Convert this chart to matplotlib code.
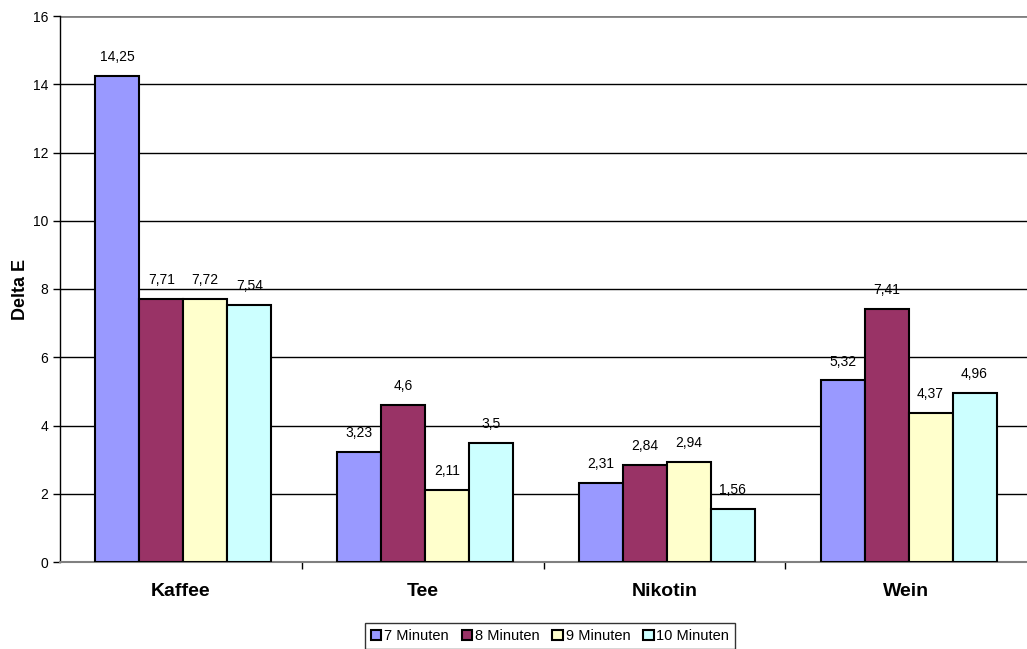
import numpy as np
import matplotlib
matplotlib.use("Agg")
import matplotlib.pyplot as plt

plt.rcParams['font.family'] = ['Liberation Sans', 'DejaVu Sans']

categories = ['Kaffee', 'Tee', 'Nikotin', 'Wein']
series_names = ['7 Minuten', '8 Minuten', '9 Minuten', '10 Minuten']
values = [
    [14.25, 3.23, 2.31, 5.32],
    [7.71, 4.6, 2.84, 7.41],
    [7.72, 2.11, 2.94, 4.37],
    [7.54, 3.5, 1.56, 4.96],
]
colors = ['#9999FF', '#993366', '#FFFFCC', '#CCFFFF']

fig = plt.figure(figsize=(10.27, 6.49), dpi=100)
ax = fig.add_axes([60/1027, 87/649, 967/1027, 546/649])

bar_w = 0.182
start = 0.146
x = np.arange(len(categories))
for i, (name, vals) in enumerate(zip(series_names, values)):
    pos = x + start + i * bar_w
    ax.bar(pos, vals, width=bar_w, align='edge', color=colors[i],
           edgecolor='black', linewidth=1.5, label=name, zorder=3)
    for p, v in zip(pos, vals):
        ax.text(p + bar_w / 2, v + 0.35, ('%g' % v).replace('.', ','),
                ha='center', va='bottom', fontsize=10, zorder=4)

ax.set_xlim(0, 4)
ax.set_ylim(0, 16)
ax.set_yticks(np.arange(0, 17, 2))
ax.tick_params(axis='y', labelsize=10, length=5, width=1, direction='out')
for y in range(2, 16, 2):
    ax.axhline(y, color='black', linewidth=1, zorder=1)
ax.axhline(16, color='#808080', linewidth=2, zorder=1)

ax.set_xticks([1, 2, 3])
ax.set_xticklabels([])
ax.tick_params(axis='x', length=5, width=1, direction='out', color='black')
for xi, c in zip(x, categories):
    ax.text(xi + 0.5, -0.85, c, ha='center', va='center', fontsize=14,
            fontweight='bold', transform=ax.transData)

for side in ['top', 'right']:
    ax.spines[side].set_visible(False)
ax.spines['left'].set_color('black')
ax.spines['bottom'].set_color('#808080')
ax.spines['left'].set_linewidth(1)
ax.spines['bottom'].set_linewidth(1.5)

ax.set_ylabel('Delta E', fontsize=13, fontweight='bold')
ax.yaxis.set_label_coords(-0.032, 0.5)

leg = ax.legend(loc='center', bbox_to_anchor=(550/1027, 1 - 636/649),
                bbox_transform=fig.transFigure, ncol=4, fontsize=10.5,
                frameon=True, fancybox=False, handlelength=0.7, handleheight=0.7,
                handletextpad=0.2, columnspacing=0.9, borderpad=0.4)
leg.get_frame().set_edgecolor('black')
leg.get_frame().set_linewidth(1)

fig.savefig('out.png', dpi=100)
